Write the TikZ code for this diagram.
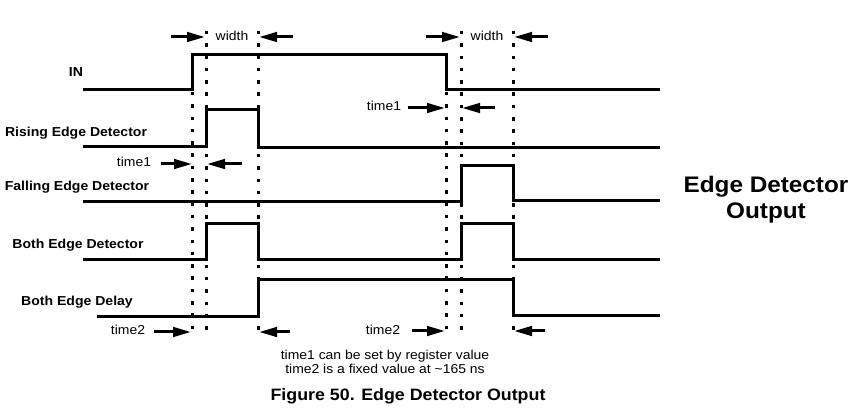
\documentclass[tikz,border=0pt]{standalone}
\usepackage{fontspec}
\setmainfont[FakeStretch=1.08]{Liberation Sans}
\usetikzlibrary{arrows.meta}

\begin{document}
\begin{tikzpicture}[x=1pt,y=-1pt,
  sig/.style={line width=3pt, line join=miter},
  guide/.style={line width=3pt, dash pattern=on 3.5pt off 8.8pt},
  dimarrow/.style={line width=3pt, -{Triangle[length=18pt,width=9.5pt]}},
  lbl/.style={font=\fontsize{13}{15}\selectfont\bfseries, inner sep=0pt},
  txt/.style={font=\fontsize{12.9}{14}\selectfont, inner sep=0pt},
]
\useasboundingbox (0,0) rectangle (854,411);

% guide lines (dotted)
\foreach \gx/\gy in {192/92, 206/31, 258/31, 446/92, 461/31, 513/31}{
  \draw[guide] (\gx,\gy) -- (\gx,334);
}

% signals
\draw[sig] (83,90) -- (192,90) -- (192,55) -- (446,55) -- (446,90) -- (660,90);
\draw[sig] (83,147) -- (206,147) -- (206,110) -- (258,110) -- (258,148) -- (660,148);
\draw[sig] (83,202) -- (461,202) -- (461,166) -- (513,166) -- (513,201) -- (660,201);
\draw[sig] (83,260) -- (206,260) -- (206,224) -- (258,224) -- (258,260) -- (461,260)
  -- (461,224) -- (513,224) -- (513,260) -- (660,260);
\draw[sig] (97,317) -- (258,317) -- (258,280) -- (513,280) -- (513,316) -- (660,316);

% signal labels
\node[lbl] (lin) at (76,72) {IN};
\node[lbl] (lrise) at (76,133) {Rising Edge Detector};
\node[lbl] (lfall) at (77,187) {Falling Edge Detector};
\node[lbl] (lboth) at (78,245) {Both Edge Detector};
\node[lbl] (ldelay) at (77,302) {Both Edge Delay};

% dimension texts
\node[txt] (w1) at (232,36) {width};
\node[txt] (w2) at (487,36) {width};
\node[txt] (t1a) at (134,162) {time1};
\node[txt] (t1b) at (384,106) {time1};
\node[txt] (t2a) at (128,330) {time2};
\node[txt] (t2b) at (383,330) {time2};

% arrow end coordinates
\coordinate (a1s) at (171,37);  \coordinate (a1e) at (205,37);
\coordinate (a2s) at (293,37);  \coordinate (a2e) at (259,37);
\coordinate (a3s) at (426,37);  \coordinate (a3e) at (460,37);
\coordinate (a4s) at (548,37);  \coordinate (a4e) at (514,37);
\coordinate (b1s) at (161,164); \coordinate (b1e) at (192,164);
\coordinate (b2s) at (242,164); \coordinate (b2e) at (207,164);
\coordinate (b3s) at (408,108); \coordinate (b3e) at (445,108);
\coordinate (b4s) at (495,108); \coordinate (b4e) at (462,108);
\coordinate (c1s) at (154,332); \coordinate (c1e) at (191,332);
\coordinate (c2s) at (290,332); \coordinate (c2e) at (259,332);
\coordinate (c3s) at (412,331); \coordinate (c3e) at (445,331);
\coordinate (c4s) at (545,331); \coordinate (c4e) at (514,331);

\foreach \p in {a1,a2,a3,a4,b1,b2,b3,b4,c1,c2,c3,c4}{
  \draw[dimarrow] (\p s) -- (\p e);
}

% notes
\node[txt, align=center] (notes) at (385,362) {time1 can be set by register value\\time2 is a fixed value at \textasciitilde165 ns};
\node[font=\fontsize{16.5}{18}\selectfont\bfseries, inner sep=0pt] (caption) at (408,396) {Figure 50. Edge Detector Output};
\node[font=\fontsize{22.5}{26}\selectfont\bfseries, inner sep=0pt, align=center] (title) at (766,200) {Edge Detector\\Output};
\end{tikzpicture}
\end{document}
